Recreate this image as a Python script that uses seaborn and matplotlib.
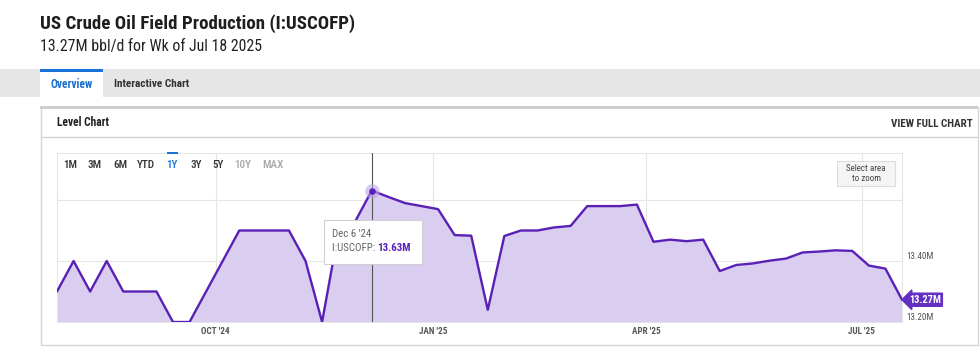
import matplotlib
matplotlib.use("Agg")
import matplotlib.pyplot as plt
import matplotlib.dates as mdates
from matplotlib.patches import Rectangle
from matplotlib import font_manager
import seaborn as sns
import pandas as pd

# ---------------- data ----------------
start_date = "2024-07-26"
n_weeks = 52
production = [13.30, 13.40, 13.30, 13.40, 13.30, 13.30, 13.30, 13.20, 13.20, 13.30,
              13.40, 13.50, 13.50, 13.50, 13.50, 13.40, 13.20, 13.50, 13.53, 13.631,
              13.61, 13.59, 13.58, 13.57, 13.485, 13.483, 13.24, 13.482, 13.50, 13.50,
              13.51, 13.515, 13.58, 13.58, 13.58, 13.585, 13.463, 13.47, 13.465, 13.47,
              13.367, 13.387, 13.392, 13.401, 13.408, 13.428, 13.431, 13.435, 13.433, 13.385,
              13.375, 13.273]
x_tick_dates = ["2024-10-01", "2025-01-01", "2025-04-01", "2025-07-01"]
x_tick_labels = ["OCT '24", "JAN '25", "APR '25", "JUL '25"]
y_ticks = [13.20, 13.40, 13.60]
y_tick_labels = ["13.20M", "13.40M", ""]
range_buttons = ["1M", "3M", "6M", "YTD", "1Y", "3Y", "5Y", "10Y", "MAX"]
title = "US Crude Oil Field Production (I:USCOFP)"
subtitle = "13.27M bbl/d for Wk of Jul 18 2025"
hover_index = 19

dates = pd.date_range(start_date, periods=n_weeks, freq="7D")
df = pd.DataFrame({"date": dates, "value": production})

# ---------------- fonts ----------------
sns.set_theme(style="white")
avail = {f.name for f in font_manager.fontManager.ttflist}
cond = None
for cand in ["Roboto Condensed", "Liberation Sans Narrow", "DejaVu Sans Condensed"]:
    if cand in avail:
        cond = cand
        break
base = "Roboto" if "Roboto" in avail else "DejaVu Sans"
CF = [cond, base] if cond else [base]
plt.rcParams["font.family"] = [base, "DejaVu Sans"]

LINE = "#5a20b6"
FILL = "#d9cdf0"
W, H = 980, 355

fig = plt.figure(figsize=(W / 100, H / 100), dpi=100)
fig.patch.set_facecolor("white")

# background chrome axes in pixel coordinates
bg = fig.add_axes([0, 0, 1, 1], zorder=0)
bg.set_xlim(0, W)
bg.set_ylim(H, 0)
bg.axis("off")

bg.text(40, 29, title, family=CF, fontsize=13.6, fontweight="bold", color="#1e1e1e", va="baseline")
bg.text(40, 51, subtitle, family=CF, fontsize=11.4, color="#222222", va="baseline")

# tab bar
bg.add_patch(Rectangle((0, 69), W, 28, facecolor="#e6e6e6", edgecolor="none"))
bg.add_patch(Rectangle((40, 69), 63, 29, facecolor="white", edgecolor="none"))
bg.add_patch(Rectangle((40, 69), 63, 3, facecolor="#1a73d6", edgecolor="none"))
bg.text(71.5, 84, "Overview", family=CF, fontsize=8.3, fontweight="bold", color="#1a6fce",
        ha="center", va="center")
bg.text(114, 84, "Interactive Chart", family=CF, fontsize=8.1, fontweight="bold", color="#333333",
        ha="left", va="center")

# card
bg.add_patch(Rectangle((40.5, 107), 937, 238, facecolor="white", edgecolor="#d6d6d6", linewidth=1))
bg.add_patch(Rectangle((40, 106), 938, 3, facecolor="#cfcfcf", edgecolor="none"))
bg.plot([41, 977], [136.5, 136.5], color="#d2d2d2", linewidth=1)
bg.text(57, 123, "Level Chart", family=CF, fontsize=8.3, fontweight="bold", color="#222222",
        ha="left", va="center")
bg.text(973, 124, "VIEW FULL CHART", family=CF, fontsize=7.9, fontweight="bold", color="#333333",
        ha="right", va="center")

# ---------------- main chart ----------------
L, R, T, B = 57, 902, 153, 322
ax = fig.add_axes([L / W, (H - B) / H, (R - L) / W, (B - T) / H], zorder=1)
ax.set_facecolor("white")
ymin, ymax = 13.20, 13.20 + (B - T) * 0.2 / 61
ax.fill_between(df["date"], df["value"], ymin, color=FILL, linewidth=0, zorder=1)
sns.lineplot(data=df, x="date", y="value", ax=ax, color=LINE, linewidth=1.7, zorder=3)
ax.set_xlim(dates[0], dates[-1])
ax.set_ylim(ymin, ymax)

ax.set_xticks(pd.to_datetime(x_tick_dates))
ax.set_xticklabels(x_tick_labels, family=CF, fontsize=6.6, color="#555555", fontweight="bold")
ax.set_yticks(y_ticks)
ax.yaxis.tick_right()
ax.set_yticklabels(y_tick_labels, family=CF, fontsize=6.6, color="#555555")
for lbl in ax.get_yticklabels():
    lbl.set_va("bottom")
ax.tick_params(axis="y", length=0, pad=3)
ax.tick_params(axis="x", length=0, pad=3.5)
ax.grid(True, color="#e6e6e6", linewidth=0.8, zorder=0)
ax.set_axisbelow(True)
ax.set_xlabel("")
ax.set_ylabel("")
for s in ax.spines.values():
    s.set_color("#e6e6e6")
    s.set_linewidth(0.8)

# hover crosshair + marker
hx, hy = dates[hover_index], production[hover_index]
ax.axvline(hx, color="#555555", linewidth=0.8, zorder=4)
ax.scatter([hx], [hy], s=110, color="#b9a6e6", alpha=0.6, zorder=5, linewidths=0)
ax.scatter([hx], [hy], s=22, color=LINE, zorder=6, linewidths=0)

# last value label
ax.annotate(f"{production[-1]:.2f}M", xy=(dates[-1], production[-1]), xytext=(5, 0),
            textcoords="offset points", ha="left", va="center", family=CF,
            fontsize=7.5, fontweight="bold", color="white",
            bbox=dict(boxstyle="larrow,pad=0.15", fc="#6330c4", ec="#6330c4"),
            annotation_clip=False, zorder=10)

# ---------------- overlay chrome ----------------
ov = fig.add_axes([0, 0, 1, 1], zorder=2)
ov.set_xlim(0, W)
ov.set_ylim(H, 0)
ov.axis("off")
ov.patch.set_alpha(0)

# range selector
btn_x = [70, 95, 120, 146, 172, 196, 218, 243, 273]
for lab, bx in zip(range_buttons, btn_x):
    col = "#333333"
    if lab == "1Y":
        col = "#1a73d6"
    elif lab in ("10Y", "MAX"):
        col = "#a8a8a8"
    ov.text(bx, 165, lab, family=CF, fontsize=8, fontweight="medium", color=col,
            ha="center", va="center")
ov.add_patch(Rectangle((167, 152), 11, 2, facecolor="#1a73d6", edgecolor="none"))

# select-area box
ov.add_patch(Rectangle((837, 161), 58, 24.5, facecolor="#f5f5f5", edgecolor="#dcdcdc", linewidth=0.8))
ov.text(866, 173.5, "Select area\nto zoom", family=CF, fontsize=6.5, color="#444444",
        ha="center", va="center", linespacing=1.15)

# tooltip
fig.canvas.draw()
px, py = ax.transData.transform((mdates.date2num(hx), hy))
py = H - py
tx, ty = px - 48, py + 29
ov.add_patch(Rectangle((tx + 1.5, ty + 1.5), 98, 44, facecolor="#000000", alpha=0.06, edgecolor="none"))
ov.add_patch(Rectangle((tx, ty), 98, 44, facecolor="white", edgecolor="#d0d0d0", linewidth=0.8))
ov.text(tx + 8, ty + 14, "Dec 6 '24", family=CF, fontsize=7.8, color="#666666", va="center")
t1 = ov.text(tx + 8, ty + 28, "I:USCOFP: ", family=CF, fontsize=7.8, color="#666666", va="center")
ov.annotate(f"{hy:.2f}M", xy=(1, 0), xycoords=t1, va="bottom", ha="left", family=CF,
            fontsize=7.8, fontweight="bold", color=LINE)

fig.savefig("out.png", dpi=100, facecolor="white")
